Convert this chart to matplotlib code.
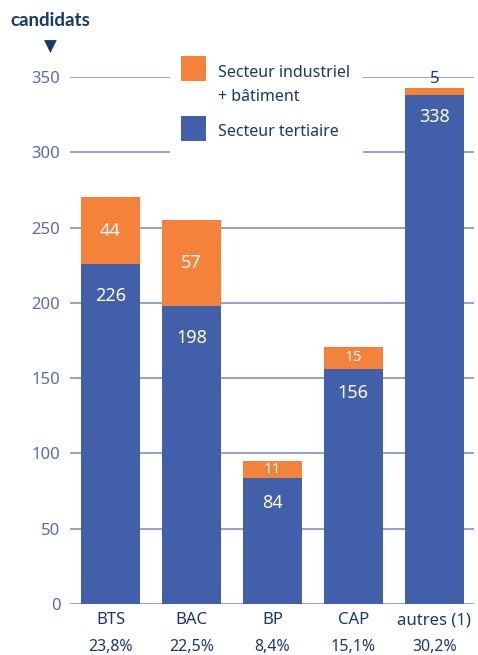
import numpy as np
import matplotlib.pyplot as plt
from matplotlib.patches import Rectangle

plt.rcParams['font.family'] = ['Noto Sans', 'DejaVu Sans']

# donnees
categories = ['BTS', 'BAC', 'BP', 'CAP', 'autres (1)']
pourcentages = ['23,8%', '22,5%', '8,4%', '15,1%', '30,2%']
tertiaire = [226, 198, 84, 156, 338]
industriel = [44, 57, 11, 15, 5]

orange = '#F5823A'
bleu = '#425FA9'
bleu_fonce = '#17396E'
bleu_axe = '#5A6BB5'
gris_grille = '#7686C4'

W, H = 478, 655
fig = plt.figure(figsize=(W / 100, H / 100), dpi=100)
ax = fig.add_axes([70 / W, 51 / H, 404 / W, 527 / H])

def px(x, y):
    # pixels (origine en haut a gauche) -> coordonnees figure
    return x / W, 1 - y / H

x = np.arange(len(categories))
ax.bar(x, tertiaire, width=0.73, color=bleu, zorder=2)
ax.bar(x, industriel, width=0.73, bottom=tertiaire, color=orange, zorder=2)

ax.set_xlim(-0.5, 4.49)
ax.set_ylim(0, 350)
ax.set_yticks(range(0, 351, 50))
ax.grid(axis='y', color=gris_grille, linewidth=1.1)
ax.set_axisbelow(True)
for s in ax.spines.values():
    s.set_visible(False)
ax.tick_params(axis='y', length=0, pad=7, labelsize=12, labelcolor=bleu_axe)
ax.tick_params(axis='x', length=0, pad=6, labelsize=12, labelcolor=bleu_fonce)
ax.set_xticks(x)
ax.set_xticklabels(categories)

# pourcentages sous les categories
for i, p in enumerate(pourcentages):
    ax.annotate(p, (i, 0), xytext=(0, -31), textcoords='offset points',
                ha='center', va='center', fontsize=11.5, color=bleu_fonce,
                annotation_clip=False)

# etiquettes des valeurs
decal = [-23, -23, -18, -17, -16]
for i in range(len(categories)):
    ax.annotate(str(tertiaire[i]), (i, tertiaire[i]), xytext=(0, decal[i]),
                textcoords='offset points', ha='center', va='center',
                fontsize=13, color='white')
    if industriel[i] >= 10:
        fs = 13 if industriel[i] > 20 else 11
        ax.text(i, tertiaire[i] + industriel[i] / 2, str(industriel[i]),
                ha='center', va='center', fontsize=fs, color='white')
    else:
        ax.annotate(str(industriel[i]), (i, tertiaire[i] + industriel[i]),
                    xytext=(0, 6), textcoords='offset points', ha='center',
                    va='center', fontsize=12, color=bleu_fonce,
                    annotation_clip=False)

# legende (fond blanc qui coupe la grille)
ax.add_patch(Rectangle(px(170, 153), 193 / W, 100 / H, transform=fig.transFigure,
                       facecolor='white', edgecolor='none', zorder=1))
fig.add_artist(Rectangle(px(181, 81), 25 / W, 25 / H, facecolor=orange, edgecolor='none'))
fig.add_artist(Rectangle(px(181, 141), 25 / W, 25 / H, facecolor=bleu, edgecolor='none'))
fig.text(*px(218, 73), 'Secteur industriel', fontsize=11.5, color=bleu_fonce, va='center')
fig.text(*px(218, 97), '+ bâtiment', fontsize=11.5, color=bleu_fonce, va='center')
fig.text(*px(218, 132), 'Secteur tertiaire', fontsize=11.5, color=bleu_fonce, va='center')

# titre de l'axe
fig.text(*px(50, 21), 'candidats', fontsize=13.5, fontweight='bold', color=bleu_fonce,
         ha='center', va='center', family=['Lato', 'DejaVu Sans'])
fig.text(*px(50, 47), '▼', fontsize=12, color=bleu_fonce, ha='center', va='center',
         family='DejaVu Sans')

fig.savefig('out.png', dpi=100)
